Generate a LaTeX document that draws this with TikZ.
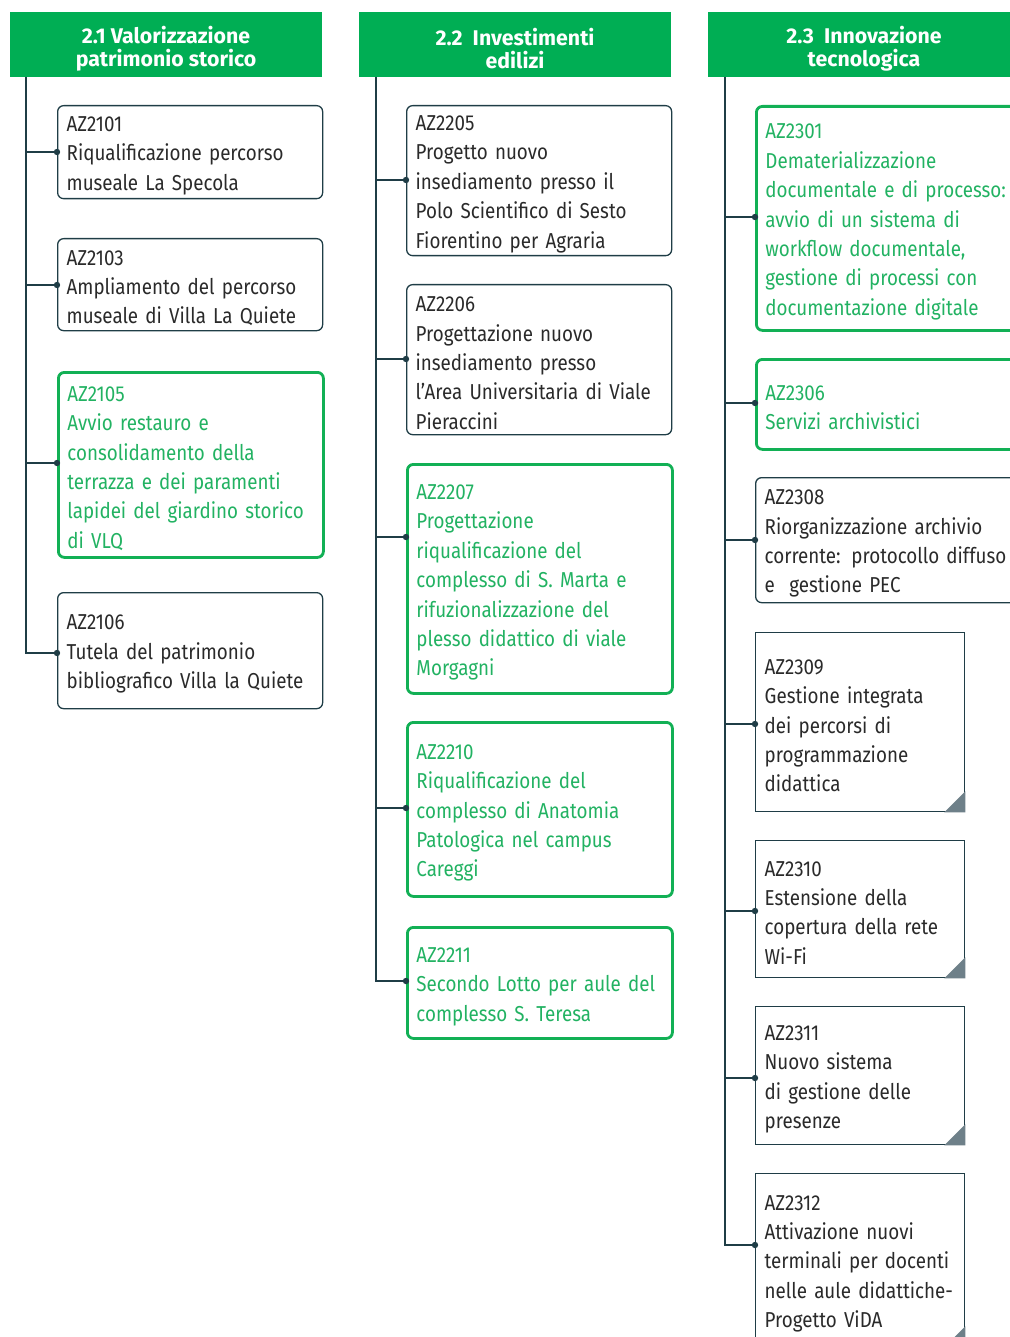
\documentclass[tikz,border=0pt]{standalone}
\usepackage{fontspec}
\setmainfont{Fira Sans}[FakeStretch=0.87,WordSpace=0.85]
\newfontfamily\hdrfont{Fira Sans}[FakeStretch=1.0]
\definecolor{hdrgreen}{HTML}{00AE54}
\definecolor{boxgreen}{HTML}{12B055}
\definecolor{txtgreen}{HTML}{22B262}
\definecolor{dark}{HTML}{1F3D46}
\definecolor{txtdark}{HTML}{2A2A2A}
\definecolor{foldc}{HTML}{6E8089}
\tikzset{
  hdr/.style={fill=hdrgreen, minimum width=312pt, minimum height=65pt, inner sep=0pt},
  hdrtext/.style={inner sep=0pt, text=white, font=\hdrfont\bfseries\fontsize{21.3}{23}\selectfont, align=center},
  boxbase/.style={anchor=north west, inner xsep=9pt, inner ysep=0pt, align=left,
    font=\fontsize{21.6}{29.4}\selectfont, execute at begin node={\rule{0pt}{22pt}}},
  plainbox/.style={boxbase, draw=dark, line width=1.3pt, rounded corners=6pt,
    minimum width=265pt, text width=247pt, text=txtdark},
  greenbox/.style={boxbase, draw=boxgreen, line width=2.8pt, rounded corners=6pt,
    minimum width=265pt, text width=247pt, text=txtgreen},
  foldbox/.style={boxbase, draw=dark, line width=1.3pt,
    minimum width=209pt, text width=191pt, text=txtdark},
  conn/.style={draw=dark, line width=1.4pt},
  dot/.style={fill=dark},
}
\newcommand{\foldmark}[1]{\fill[foldc] (#1.south east) -- ++(-21,0) -- ++(21,-21) -- cycle;}
\newcommand{\oneline}[1]{\mbox{#1}}
\begin{document}
\begin{tikzpicture}[x=1pt,y=-1pt]
\useasboundingbox (0,0) rectangle (1009,1337);
% headers
\node[hdr] (h1) at (166,44.5) {};
\node[hdr] (h2) at (515,44.5) {};
\node[hdr] (h3) at (864,44.5) {};
\node[hdrtext] (h1t) at ([yshift=-4pt]h1.center) {2.1 Valorizzazione\\patrimonio storico};
\node[hdrtext] (h2t) at ([yshift=-4pt]h2.center) {2.2~~Investimenti\\edilizi};
\node[hdrtext] (h3t) at ([yshift=-4pt]h3.center) {2.3~~Innovazione\\tecnologica};
% column 1
\node[plainbox, minimum height=93pt] (b2101) at (57,105) {AZ2101\\\oneline{Riqualificazione percorso}\\museale La Specola};
\node[plainbox, minimum height=92pt] (b2103) at (57,238) {AZ2103\\\oneline{Ampliamento del percorso}\\\oneline{museale di Villa La Quiete}};
\node[greenbox, minimum height=185pt] (b2105) at (57,371) {AZ2105\\Avvio restauro e\\consolidamento della\\\oneline{terrazza e dei paramenti}\\\oneline{lapidei del giardino storico}\\di VLQ};
\node[plainbox, minimum height=116pt] (b2106) at (57,592) {AZ2106\\Tutela del patrimonio\\\oneline{bibliografico Villa la Quiete}};
% column 2
\node[plainbox, minimum height=150pt] (b2205) at (406,105) {AZ2205\\Progetto nuovo\\insediamento presso il\\\oneline{Polo Scientifico di Sesto}\\\oneline{Fiorentino per Agraria}};
\node[plainbox, minimum height=150pt] (b2206) at (406,284) {AZ2206\\Progettazione nuovo\\insediamento presso\\\oneline{l'Area Universitaria di Viale}\\Pieraccini};
\node[greenbox, minimum height=229pt] (b2207) at (406,463) {AZ2207\\Progettazione\\riqualificazione del\\\oneline{complesso di S. Marta e}\\\oneline{rifuzionalizzazione del}\\\oneline{plesso didattico di viale}\\Morgagni};
\node[greenbox, minimum height=174pt] (b2210) at (406,721) {AZ2210\\Riqualificazione del\\\oneline{complesso di Anatomia}\\\oneline{Patologica nel campus}\\Careggi};
\node[greenbox, minimum height=111pt] (b2211) at (406,926) {AZ2211\\\oneline{Secondo Lotto per aule del}\\complesso S. Teresa};
% column 3
\node[greenbox, minimum height=224pt] (b2301) at (755,105) {AZ2301\\Dematerializzazione\\\oneline{documentale e di processo:}\\avvio di un sistema di\\\oneline{workflow documentale,}\\\oneline{gestione di processi con}\\\oneline{documentazione digitale}};
\node[greenbox, minimum height=90pt] (b2306) at (755,358) {AZ2306\\Servizi archivistici};
\node[plainbox, minimum height=125pt] (b2308) at (755,477) {AZ2308\\\oneline{Riorganizzazione archivio}\\\oneline{corrente: protocollo diffuso}\\e~ gestione PEC};
\node[foldbox, minimum height=179pt] (b2309) at (755,632) {AZ2309\\\oneline{Gestione integrata}\\dei percorsi di\\\oneline{programmazione}\\didattica};
\node[foldbox, minimum height=137pt] (b2310) at (755,840) {AZ2310\\Estensione della\\\oneline{copertura della rete}\\Wi-Fi};
\node[foldbox, minimum height=138pt] (b2311) at (755,1006) {AZ2311\\Nuovo sistema\\\oneline{di gestione delle}\\presenze};
\node[foldbox, minimum height=173pt] (b2312) at (755,1173) {AZ2312\\Attivazione nuovi\\\oneline{terminali per docenti}\\\oneline{nelle aule didattiche-}\\Progetto ViDA};
\foldmark{b2309}\foldmark{b2310}\foldmark{b2311}\foldmark{b2312}
% connection points
\coordinate (s1) at (26,77);
\coordinate (s2) at (376,77);
\coordinate (s3) at (725,77);
\coordinate (c2101) at (57,152);
\coordinate (c2103) at (57,285);
\coordinate (c2105) at (57,463);
\coordinate (c2106) at (57,653);
\coordinate (c2205) at (406,180);
\coordinate (c2206) at (406,359);
\coordinate (c2207) at (406,537);
\coordinate (c2210) at (406,808);
\coordinate (c2211) at (406,981);
\coordinate (c2301) at (755,217);
\coordinate (c2306) at (755,403);
\coordinate (c2308) at (755,540);
\coordinate (c2309) at (755,724);
\coordinate (c2310) at (755,911);
\coordinate (c2311) at (755,1078);
\coordinate (c2312) at (755,1245);
% spines
\draw[conn] (s1) |- (c2106);
\draw[conn] (s2) |- (c2211);
\draw[conn] (s3) |- (c2312);
\foreach \c in {c2101,c2103,c2105}{\draw[conn] (s1 |- \c) -- (\c);}
\foreach \c in {c2205,c2206,c2207,c2210}{\draw[conn] (s2 |- \c) -- (\c);}
\foreach \c in {c2301,c2306,c2308,c2309,c2310,c2311}{\draw[conn] (s3 |- \c) -- (\c);}
\foreach \c in {c2101,c2103,c2105,c2106,c2205,c2206,c2207,c2210,c2211,c2301,c2306,c2308,c2309,c2310,c2311,c2312}{\fill[dot] (\c) circle (3.2pt);}
\end{tikzpicture}
\end{document}
